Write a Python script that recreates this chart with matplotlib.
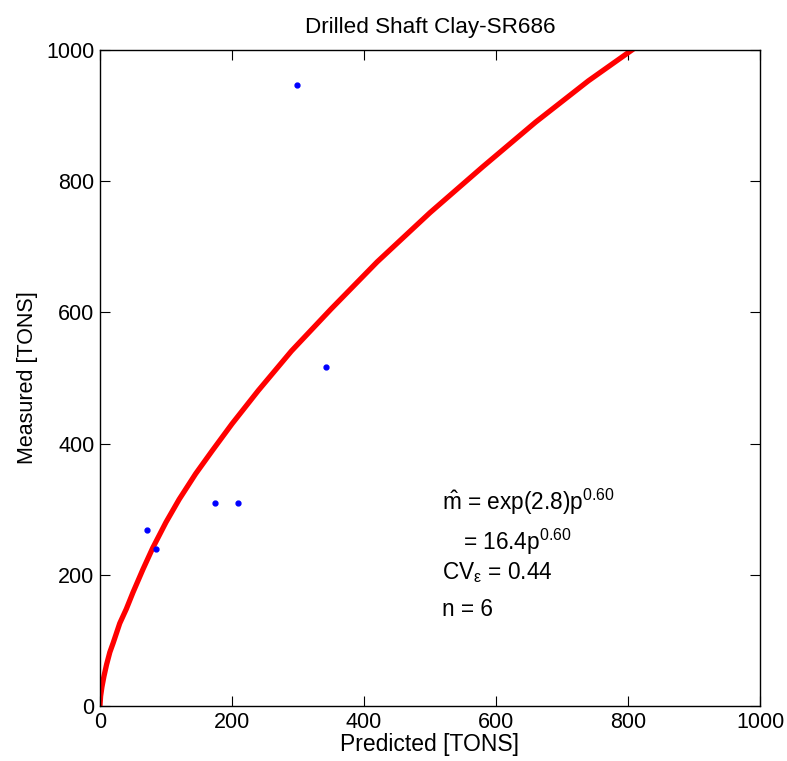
import matplotlib
matplotlib.use('Agg')
import matplotlib.pyplot as plt

plt.rcParams['font.family'] = ['Liberation Sans', 'DejaVu Sans']
plt.rcParams['mathtext.fontset'] = 'custom'
plt.rcParams['mathtext.rm'] = 'Liberation Sans'
plt.rcParams['mathtext.it'] = 'Liberation Sans'

# measured vs predicted capacities
predicted = [71, 85, 175, 209, 298, 342]
measured = [268, 239, 310, 310, 947, 517]

# fitted curve
curve_p = [0, 1, 3, 6, 10, 15, 20, 30, 40, 50, 65, 80, 100, 120, 145, 170,
           200, 240, 290, 350, 420, 500, 580, 660, 740, 806]
curve_m = [0, 15, 29, 45, 63, 82, 96, 126, 148, 173, 208, 241, 280, 315, 354, 389,
           430, 481, 541, 605, 677, 752, 822, 890, 953, 1000]

fig = plt.figure(figsize=(7.87, 7.61), dpi=100)
ax = fig.add_axes([0.127, 0.0723, 0.8387, 0.862])

ax.plot(curve_p, curve_m, '-', color='red', linewidth=3.8, solid_joinstyle='round')
ax.plot(predicted, measured, '.', color='blue', markersize=7)

ax.set_xlim(0, 1000)
ax.set_ylim(0, 1000)
ax.set_xticks([0, 200, 400, 600, 800, 1000])
ax.set_yticks([0, 200, 400, 600, 800, 1000])
ax.tick_params(direction='in', length=7, top=True, right=True, labelsize=15.5, pad=4)
for s in ax.spines.values():
    s.set_linewidth(1.0)

ax.set_title('Drilled Shaft Clay-SR686', fontsize=16.2, pad=12)
ax.set_xlabel('Predicted [TONS]', fontsize=16.5, labelpad=0)
ax.set_ylabel('Measured [TONS]', fontsize=15.5, labelpad=6)

# fit summary
fs = 16.3
ax.text(518, 311, r'$\hat{\rm m}$ = exp(2.8)p$^{0.60}$', fontsize=fs, ha='left', va='center')
ax.text(550, 250, r'= 16.4p$^{0.60}$', fontsize=fs, ha='left', va='center')
ax.text(518, 204, r'CV$_{\epsilon}$ = 0.44', fontsize=fs, ha='left', va='center')
ax.text(518, 147, 'n = 6', fontsize=fs, ha='left', va='center')

fig.savefig('out.png', dpi=100)
